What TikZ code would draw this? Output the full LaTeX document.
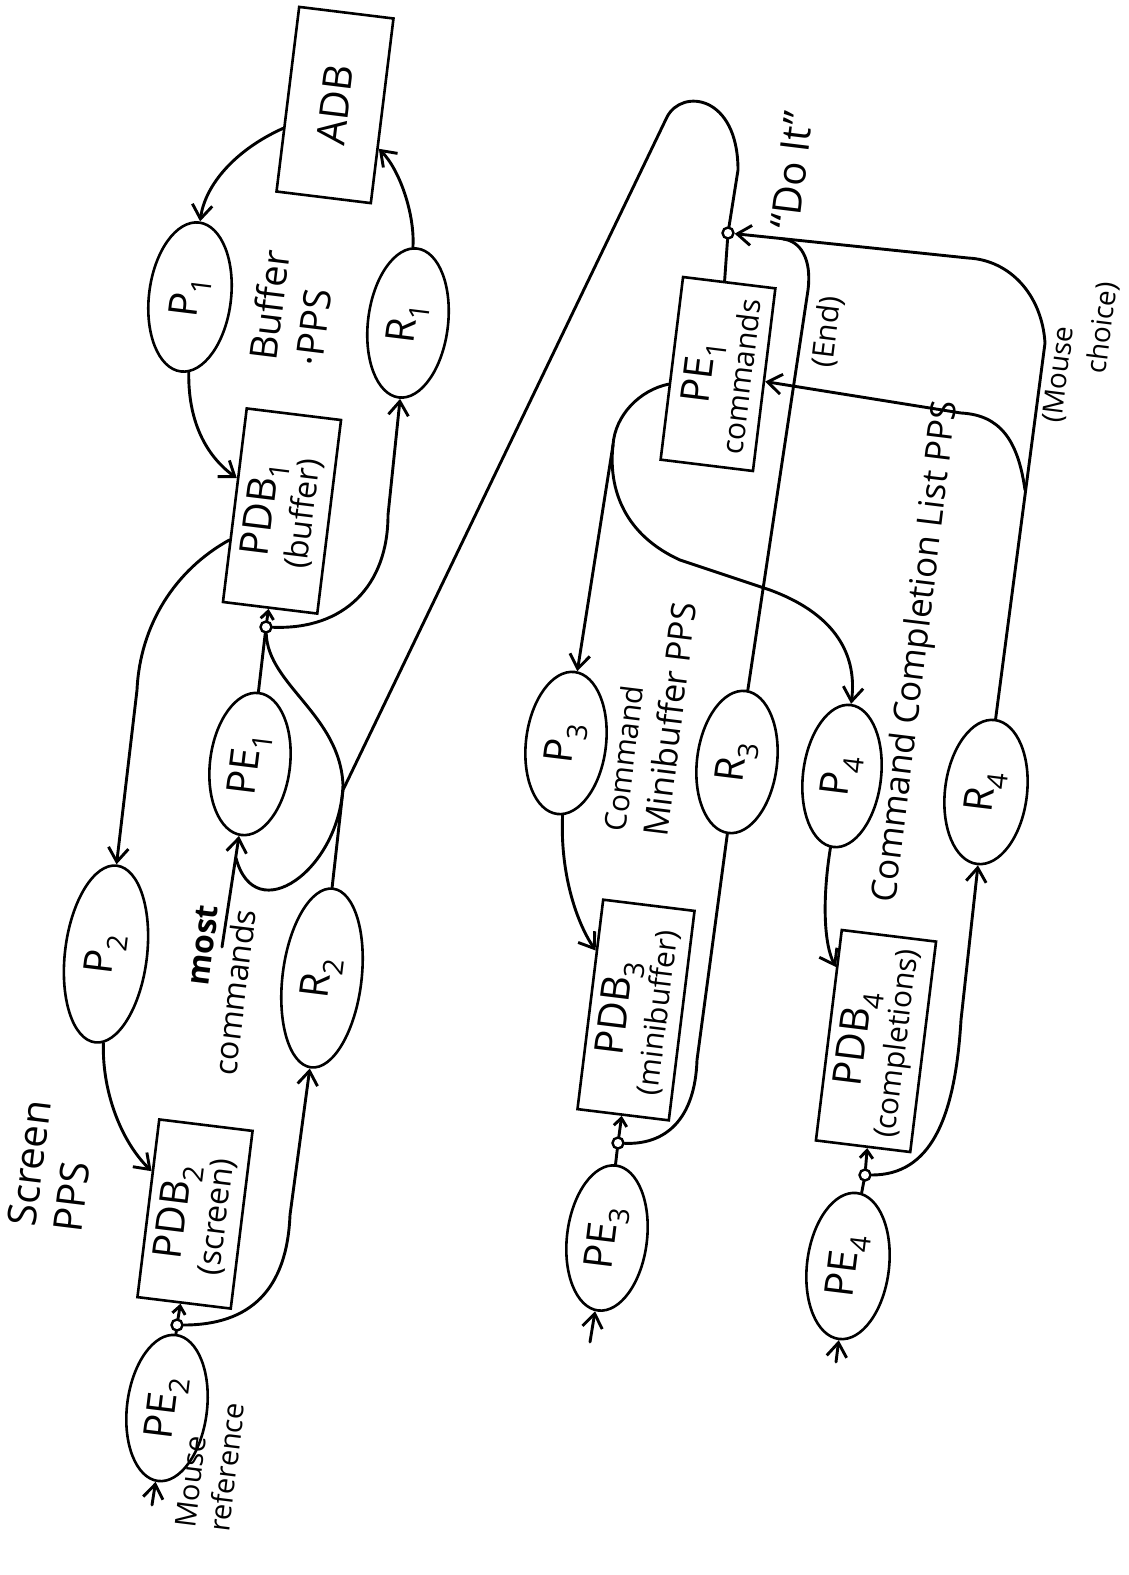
\documentclass[tikz,border=0pt]{standalone}
\usepackage{fontspec}
\setmainfont{Open Sans}
\usetikzlibrary{arrows.meta,shapes.geometric}
\begin{document}
\begin{tikzpicture}[x=1pt,y=-1pt,
  box/.style={draw, line width=2.6pt, rectangle, rotate=83, inner sep=0pt, align=center,
    font=\fontsize{40}{44}\selectfont},
  oval/.style={draw, line width=2.6pt, ellipse, rotate=83, inner sep=0pt,
    font=\fontsize{40}{44}\selectfont},
  lbl/.style={rotate=83, inner sep=0pt},
  junc/.style={circle, draw, fill=white, line width=2.4pt, minimum size=11pt, inner sep=0pt},
  conn/.style={line width=2.9pt, line cap=round, line join=round},
  arr/.style={conn, -{Straight Barb[length=14pt,width=20pt]}},
  sarr/.style={conn, -{Straight Barb[length=8pt,width=13pt]}},
  sm/.style={font=\fontsize{30}{34}\selectfont}]
\fill[white] (0,0) rectangle (1128,1575);
\useasboundingbox (0,0) rectangle (1128,1575);

% ---------- Buffer PPS ----------
\node[box, minimum width=186pt, minimum height=95pt] (ADB) at (335,105) {ADB};
\node[oval, minimum width=150pt, minimum height=82pt] (P1) at (190,297) {P\textsubscript{1}};
\node[oval, minimum width=150pt, minimum height=80pt] (R1) at (408,323) {R\textsubscript{1}};
\node[box, minimum width=195pt, minimum height=95pt] (PDB1) at (282,511)
  {PDB\textsubscript{1}\\[-4pt]{\fontsize{32}{34}\selectfont (buffer)}};
\node[lbl, align=left, font=\fontsize{38}{46}\selectfont] (bufl) at (292,308) {Buffer\\·PPS};

% ---------- Screen PPS ----------
\node[oval, minimum width=143pt, minimum height=80pt] (PE1) at (250,764) {PE\textsubscript{1}};
\node[oval, minimum width=178pt, minimum height=82pt] (P2) at (106,954) {P\textsubscript{2}};
\node[oval, minimum width=180pt, minimum height=79pt] (R2) at (322,978) {R\textsubscript{2}};
\node[box, minimum width=179pt, minimum height=94pt] (PDB2) at (195,1214)
  {PDB\textsubscript{2}\\[-4pt]{\fontsize{32}{34}\selectfont (screen)}};
\node[oval, minimum width=147pt, minimum height=80pt] (PE2) at (167,1408) {PE\textsubscript{2}};
\node[lbl, align=left, font=\fontsize{40}{46}\selectfont] (scrl) at (52,1166) {Screen\\PPS};
\node[lbl, align=right, font=\fontsize{32}{38}\selectfont] (mcl) at (217,990) {\textbf{most}\\commands};
\node[lbl, align=left, font=\fontsize{29}{34}\selectfont] (mrl) at (210,1465) {Mouse\\reference};

% ---------- Commands ----------
\node[box, minimum width=184pt, minimum height=93pt] (PEC) at (718,374)
  {PE\textsubscript{1}\\[-4pt]{\fontsize{30}{32}\selectfont commands}};
\node[oval, minimum width=143pt, minimum height=80pt] (P3) at (566,743) {P\textsubscript{3}};
\node[oval, minimum width=143pt, minimum height=80pt] (R3) at (737,762) {R\textsubscript{3}};
\node[box, minimum width=211pt, minimum height=92pt] (PDB3) at (636,1010)
  {PDB\textsubscript{3}\\[-4pt]{\fontsize{30}{32}\selectfont (minibuffer)}};
\node[oval, minimum width=146pt, minimum height=80pt] (PE3) at (607,1238) {PE\textsubscript{3}};
\node[lbl, align=left, font=\fontsize{34}{42}\selectfont] (mbl) at (650,717)
  {{\fontsize{30}{32}\selectfont Command}\\Minibuffer PPS};

\node[oval, minimum width=143pt, minimum height=78pt] (P4) at (842,776) {P\textsubscript{4}};
\node[oval, minimum width=145pt, minimum height=82pt] (R4) at (986,792) {R\textsubscript{4}};
\node[box, minimum width=212pt, minimum height=95pt] (PDB4) at (876,1041)
  {PDB\textsubscript{4}\\[-4pt]{\fontsize{30}{32}\selectfont (completions)}};
\node[oval, minimum width=147pt, minimum height=82pt] (PE4) at (848,1266) {PE\textsubscript{4}};
\node[lbl, font=\fontsize{35}{40}\selectfont] (cll) at (917,652) {Command Completion List PPS};

\node[lbl, font=\fontsize{40}{44}\selectfont] (doit) at (792,170) {``Do It''};
\node[lbl, font=\fontsize{30}{34}\selectfont] (endl) at (828,332) {(End)};
\node[lbl, font=\fontsize{28}{32}\selectfont] (mch1) at (1060,375) {(Mouse};
\node[lbl, font=\fontsize{28}{32}\selectfont] (mch2) at (1103,328) {choice)};

% ---------- junctions ----------
\node[junc] (J1) at (266,627) {};
\node[junc] (J2) at (177,1325) {};
\node[junc] (J3) at (618,1143) {};
\node[junc] (J4) at (865,1175) {};
\node[junc] (DJ) at (728,233) {};

% ---------- free ends and bends ----------
\coordinate (MC) at (222,947);
\coordinate (in2) at (152,1505);
\coordinate (in3) at (590,1342);
\coordinate (in4) at (836,1362);
\coordinate (b1) at (388,515);
\coordinate (b2) at (137,690);
\coordinate (lp1) at (343,785);
\coordinate (lpend) at (236,858);
\coordinate (b3) at (290,1215);
\coordinate (d1) at (343,790);
\coordinate (d2) at (667,117);
\coordinate (d3) at (738,170);
\coordinate (m1) at (1045,343);
\coordinate (m2) at (968,258);
\coordinate (m3) at (1025,490);
\coordinate (m4) at (961,413);
\coordinate (e1) at (808,290);
\coordinate (e2) at (783,239);
\coordinate (bp) at (613,445);
\coordinate (c1) at (680,560);
\coordinate (c2) at (770,590);
\coordinate (r3b) at (697,1060);
\coordinate (r4b) at (961,1020);

% ---------- inputs ----------
\draw[arr] (MC) -- (PE1);
\draw[arr] (in2) -- (PE2);
\draw[arr] (in3) -- (PE3);
\draw[arr] (in4) -- (PE4);

% ---------- buffer loop ----------
\draw[arr] (ADB) .. controls (235,150) and (205,185) .. (P1);
\draw[arr] (R1) .. controls (415,215) and (400,170) .. (ADB);
\draw[arr] (P1) .. controls (188,420) and (205,455) .. (PDB1);
\draw[conn] (PE1) -- (J1);
\draw[sarr] (J1) -- (PDB1);
\draw[arr] (J1) .. controls (345,630) and (388,585) .. (b1) -- (R1);
\draw[arr] (PDB1) .. controls (175,570) and (140,625) .. (b2) -- (P2);
\draw[conn] (J1) .. controls (268,685) and (340,715) .. (lp1) .. controls (340,870) and (255,930) .. (lpend);

% ---------- screen loop ----------
\draw[arr] (P2) .. controls (102,1090) and (120,1140) .. (PDB2);
\draw[conn] (PE2) -- (J2);
\draw[sarr] (J2) -- (PDB2);
\draw[arr] (J2) .. controls (250,1325) and (287,1290) .. (b3) -- (R2);

% ---------- big loop to commands ----------
\draw[conn] (R2) -- (d1) -- (d2) .. controls (682,88) and (738,95) .. (d3) -- (DJ);
\draw[conn] (DJ) -- (PEC);
\draw[arr] (R4) -- (m1) .. controls (1042,295) and (1010,260) .. (m2) -- (DJ);
\draw[arr] (m3) .. controls (1018,440) and (1000,415) .. (m4) -- (PEC);
\draw[conn] (R3) -- (e1) .. controls (812,258) and (800,241) .. (e2);

% ---------- minibuffer ----------
\draw[conn] (PEC) .. controls (640,390) and (615,415) .. (bp);
\draw[arr] (bp) -- (P3);
\draw[arr] (bp) .. controls (608,490) and (625,535) .. (c1) -- (c2) .. controls (830,612) and (858,650) .. (P4);
\draw[arr] (P3) .. controls (560,870) and (575,920) .. (PDB3);
\draw[conn] (PE3) -- (J3);
\draw[sarr] (J3) -- (PDB3);
\draw[conn] (J3) .. controls (665,1145) and (695,1120) .. (r3b) -- (R3);

% ---------- completion ----------
\draw[arr] (P4) .. controls (822,900) and (824,945) .. (PDB4);
\draw[conn] (PE4) -- (J4);
\draw[sarr] (J4) -- (PDB4);
\draw[arr] (J4) .. controls (930,1175) and (955,1120) .. (r4b) -- (R4);
\end{tikzpicture}
\end{document}
